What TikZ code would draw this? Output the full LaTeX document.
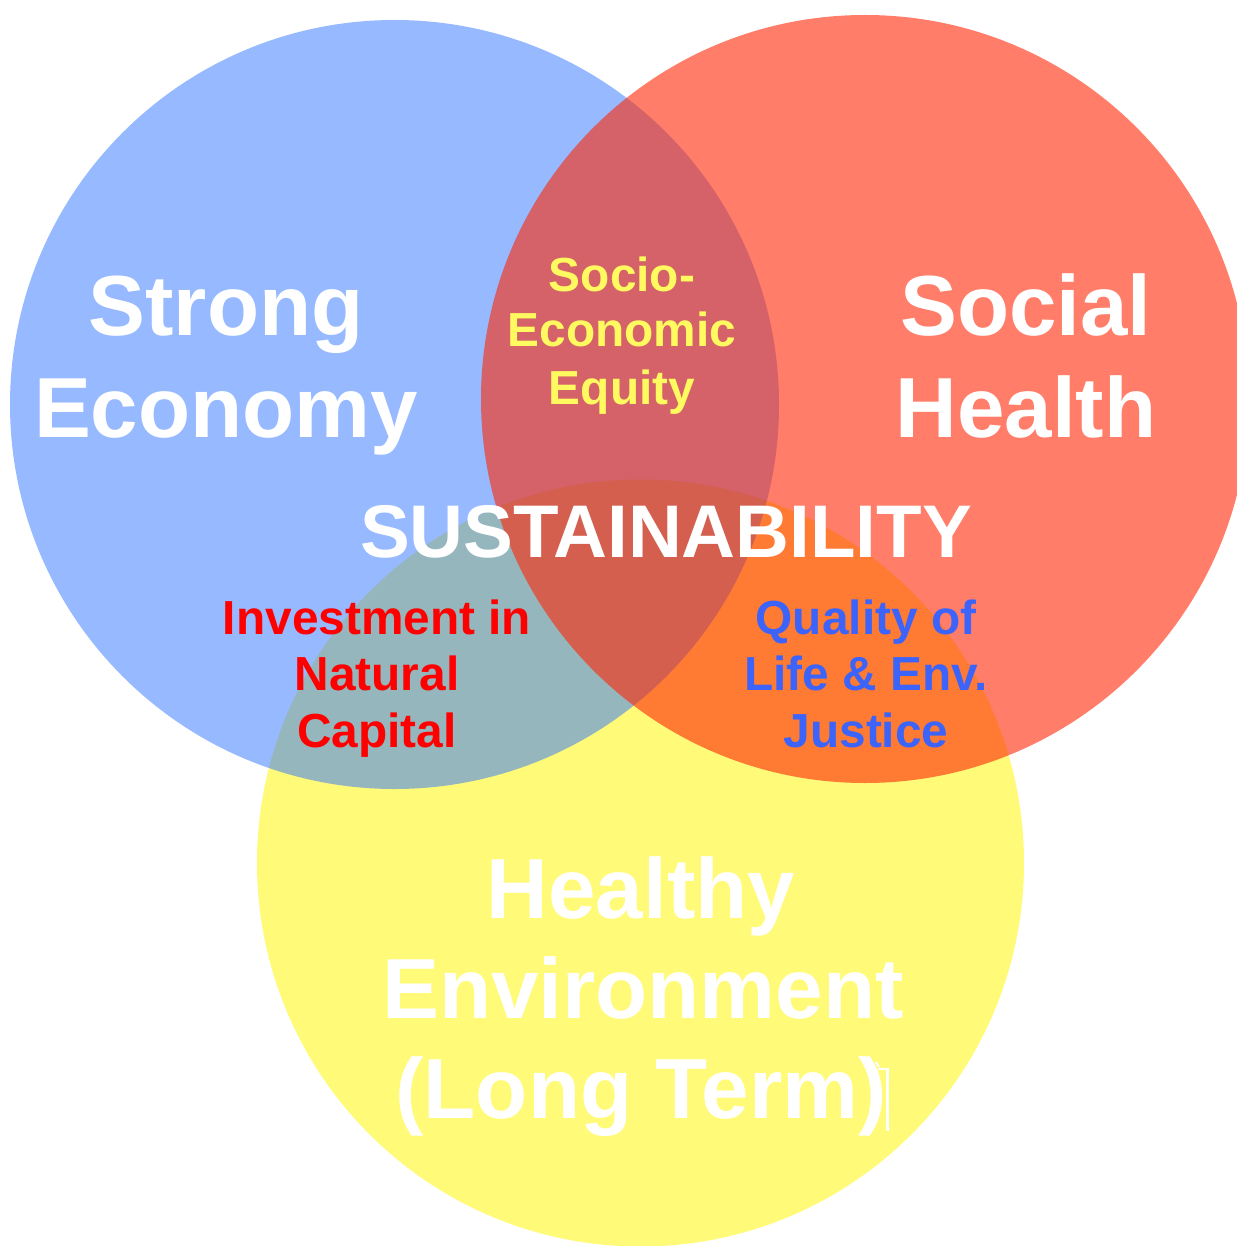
\documentclass[tikz,border=0pt]{standalone}
\usepackage{fontspec}
\setmainfont{Liberation Sans}
\definecolor{envyellow}{RGB}{255,250,120}
\definecolor{econblue}{RGB}{54,121,255}
\definecolor{socred}{RGB}{255,38,5}
\definecolor{equityyellow}{RGB}{255,250,95}
\definecolor{capitalred}{RGB}{255,0,0}
\definecolor{qualblue}{RGB}{60,100,250}
\tikzset{
  big/.style={font=\fontsize{85.3}{100}\selectfont\bfseries, text=white, anchor=base, inner sep=0pt},
  mid/.style={font=\fontsize{47.8}{57}\selectfont\bfseries, anchor=base, inner sep=0pt},
}
\begin{document}
\begin{tikzpicture}[x=1pt,y=-1pt]
\useasboundingbox (0,0) rectangle (1236,1246);
% the three pillars
\fill[envyellow] (640.5,863) circle (383.5);
\fill[econblue, fill opacity=0.52] (394.5,404.5) circle (384.5);
\fill[socred, fill opacity=0.6] (865,399) circle (384);

% pillar titles
\node[big] (se1) at (226,335) {Strong};
\node[big] (se2) at (226,437) {Economy};
\node[big] (sh1) at (1026,335) {Social};
\node[big] (sh2) at (1026,437) {Health};
\node[big] (he1) at (641,918) {Healthy};
\node[big] (he2) at (643,1018) {Environment};
\node[big] (he3) at (641,1118) {(Long Term)};
\draw[white, line width=2.5pt, line cap=butt] (878,1069) -- (887.5,1069) -- (887.5,1131);
\draw[white, line width=2pt] (876,1062) -- (879,1067);

% centre
\node[font=\fontsize{74.6}{80}\selectfont\bfseries, text=white, anchor=base, inner sep=0pt] (sus) at (666,557) {SUSTAINABILITY};

% overlaps
\node[mid, text=equityyellow] (eq1) at (622,291) {Socio-};
\node[mid, text=equityyellow] (eq2) at (622,346) {Economic};
\node[mid, text=equityyellow] (eq3) at (622,404) {Equity};
\node[mid, text=capitalred] (nc1) at (377,634) {Investment in};
\node[mid, text=capitalred] (nc2) at (377,690) {Natural};
\node[mid, text=capitalred] (nc3) at (377,747) {Capital};
\node[mid, text=qualblue] (ql1) at (866,634) {Quality of};
\node[mid, text=qualblue] (ql2) at (866,690) {Life \& Env.};
\node[mid, text=qualblue] (ql3) at (866,747) {Justice};
\end{tikzpicture}
\end{document}
